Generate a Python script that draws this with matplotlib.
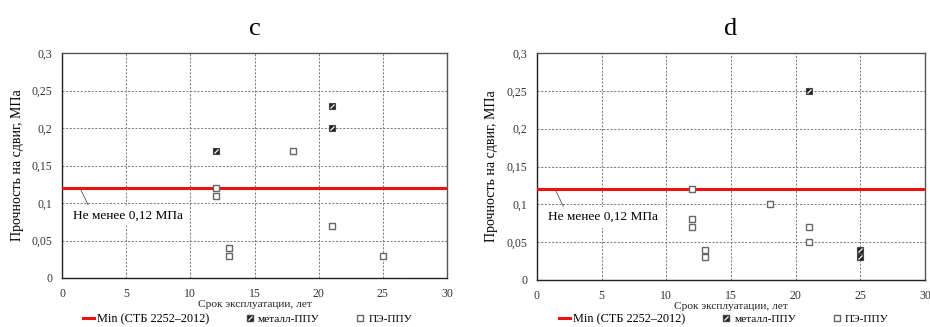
import matplotlib
matplotlib.use("Agg")
import matplotlib.pyplot as plt
from matplotlib.markers import MarkerStyle
from matplotlib.transforms import Affine2D
from matplotlib.lines import Line2D
from matplotlib.legend_handler import HandlerTuple

plt.rcParams['font.family'] = ['Liberation Serif', 'DejaVu Serif']

# Data
titles = ["c", "d"]
metal_x = [[12, 21, 21], [21, 25, 25]]
metal_y = [[0.17, 0.23, 0.20], [0.25, 0.04, 0.03]]
pe_x = [[12, 12, 13, 13, 18, 21, 25], [12, 12, 12, 13, 13, 18, 21, 21]]
pe_y = [[0.12, 0.11, 0.04, 0.03, 0.17, 0.07, 0.03],
        [0.12, 0.08, 0.07, 0.04, 0.03, 0.10, 0.07, 0.05]]
min_value = 0.12
xticks = [0, 5, 10, 15, 20, 25, 30]
yticks = [0, 0.05, 0.1, 0.15, 0.2, 0.25, 0.3]
ytick_labels = ["0", "0,05", "0,1", "0,15", "0,2", "0,25", "0,3"]
xlabel = "Срок эксплуатации, лет"
ylabel = "Прочность на сдвиг, МПа"
note = "Не менее 0,12 МПа"
legend_labels = ["Min (СТБ 2252–2012)", "металл-ППУ", "ПЭ-ППУ"]

W, H = 930, 327
fig = plt.figure(figsize=(W / 100, H / 100), dpi=100)
rects = [(62, 53, 447, 278), (537, 53, 925, 280)]
ylabel_right_px = [24, 498]

slash = MarkerStyle('|', transform=Affine2D().rotate_deg(-45))

for i, (l, t, r, b) in enumerate(rects):
    ax = fig.add_axes([l / W, 1 - b / H, (r - l) / W, (b - t) / H])
    ax.set_xlim(0, 30)
    ax.set_ylim(0, 0.3)
    ax.set_xticks(xticks)
    ax.set_yticks(yticks)
    ax.set_yticklabels(ytick_labels)
    ax.tick_params(length=0, labelsize=8.5, labelcolor='#333333')
    ax.tick_params(axis='y', pad=7)
    ax.tick_params(axis='x', pad=7)
    ax.grid(True, linestyle=(0, (2, 1.5)), color='#808080', linewidth=0.75)
    ax.set_axisbelow(True)
    for s in ['top', 'right']:
        ax.spines[s].set_color('#555555')
    for s in ['left', 'bottom']:
        ax.spines[s].set_color('#222222')
    for s in ax.spines.values():
        s.set_linewidth(1.0)

    ax.axhline(min_value, color='#ee1111', linewidth=2.2, zorder=3)
    ax.plot(pe_x[i], pe_y[i], linestyle='none', marker='s', markersize=4.8,
            markerfacecolor='white', markeredgecolor='#666666',
            markeredgewidth=1.0, zorder=4)
    ax.plot(metal_x[i], metal_y[i], linestyle='none', marker='s', markersize=4.8,
            markerfacecolor='#222222', markeredgecolor='#444444',
            markeredgewidth=0.8, zorder=4)
    ax.plot(metal_x[i], metal_y[i], linestyle='none', marker=slash, markersize=3.8,
            markeredgecolor='white', markeredgewidth=0.9, zorder=5)

    ax.set_title(titles[i], fontsize=19, pad=13)
    ax.set_xlabel(xlabel, fontsize=8.2, labelpad=0, color='#222222')
    ax.set_ylabel(ylabel, fontsize=10)
    ax.yaxis.set_label_coords((ylabel_right_px[i] - l) / (r - l), 0.5)

    ax.annotate(note, xy=(1.4, min_value), xytext=(0.85, 0.079),
                fontsize=9.6, ha='left', va='baseline',
                bbox=dict(boxstyle='square,pad=0.35', facecolor='white', edgecolor='none'),
                arrowprops=dict(arrowstyle='-', color='#555555', linewidth=0.6,
                                shrinkA=0, shrinkB=0, relpos=(0.16, 1.0)),
                zorder=2.5)

    handles = [Line2D([], [], color='#ee1111', linewidth=2.2),
               (Line2D([], [], linestyle='none', marker='s', markersize=4.5,
                       markerfacecolor='#222222', markeredgecolor='#444444'),
                Line2D([], [], linestyle='none', marker=slash, markersize=3.5,
                       markeredgecolor='white', markeredgewidth=0.9)),
               Line2D([], [], linestyle='none', marker='s', markersize=4.5,
                      markerfacecolor='white', markeredgecolor='#666666')]
    leg = ax.legend(handles, legend_labels, ncol=3, loc='center',
                    bbox_to_anchor=(0.482, (b - 319) / (b - t)), frameon=False,
                    handlelength=0.9, handletextpad=0.25, columnspacing=3.0,
                    fontsize=8.5, handler_map={tuple: HandlerTuple(ndivide=1, pad=0)})
    for j, txt in enumerate(leg.get_texts()):
        txt.set_fontsize(8.8 if j == 0 else 8.2)

fig.savefig("out.png", dpi=100)
